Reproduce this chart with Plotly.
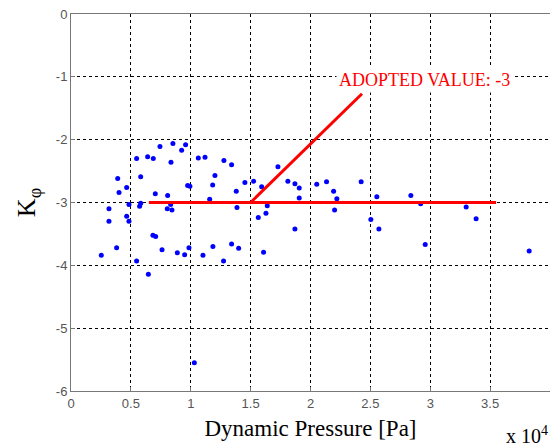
import plotly.graph_objects as go

# Dynamic pressure in units of 1e4 Pa, and K_phi
pressure = [0.743, 0.851, 0.957, 0.924, 1.063, 0.548, 0.640, 0.687, 0.835, 0.390,
            0.582, 0.465, 0.401, 0.974, 0.993, 0.704, 0.807, 0.484, 0.582, 0.573,
            0.832, 0.804, 0.843, 0.317, 0.317, 0.465, 0.484, 0.684, 0.707, 0.381,
            0.760, 0.888, 0.949, 0.985, 0.253, 0.548, 0.646, 1.030, 1.102, 1.185,
            1.158, 1.274, 1.341, 1.386, 1.400, 1.564, 1.608, 1.628, 1.639, 1.870,
            1.906, 1.119, 1.277, 1.341, 1.202, 1.183, 1.380, 1.452, 1.525, 1.592,
            1.728, 1.811, 1.870, 1.906, 2.052, 2.134, 2.193, 2.220, 2.201, 2.423,
            2.554, 2.504, 2.571, 2.838, 2.920, 2.958, 3.300, 3.383, 3.826]
k_phi = [-2.11, -2.06, -2.08, -2.17, -2.29, -2.30, -2.27, -2.30, -2.36, -2.62,
         -2.59, -2.76, -2.84, -2.73, -2.74, -2.86, -2.89, -3.03, -3.01, -3.06,
         -3.03, -3.10, -3.12, -3.10, -3.30, -3.22, -3.30, -3.52, -3.54, -3.72,
         -3.75, -3.80, -3.83, -3.72, -3.84, -3.93, -4.14, -5.55, -3.84, -3.70,
         -2.95, -3.93, -3.66, -3.08, -3.73, -3.24, -3.79, -3.17, -3.05, -3.42,
         -2.93, -2.28, -2.33, -2.40, -2.57, -2.72, -2.82, -2.68, -2.66, -2.75,
         -2.43, -2.66, -2.70, -2.77, -2.71, -2.67, -2.82, -2.94, -3.12, -2.67,
         -2.91, -3.27, -3.42, -2.89, -3.02, -3.67, -3.07, -3.26, -3.77]

adopted_x = [0.65, 3.55]
adopted_y = [-3, -3]
pointer_x = [1.50, 2.43]
pointer_y = [-3, -1.27]
adopted_label = "ADOPTED VALUE: -3"

x_ticks = [0, 0.5, 1, 1.5, 2, 2.5, 3, 3.5, 4]
y_ticks = [0, -1, -2, -3, -4, -5, -6]

fig = go.Figure()
fig.add_trace(go.Scatter(x=pressure, y=k_phi, mode="markers",
                         marker=dict(color="#0000ff", size=5, line=dict(width=0)),
                         showlegend=False))
fig.add_trace(go.Scatter(x=adopted_x, y=adopted_y, mode="lines",
                         line=dict(color="#ff0000", width=3), showlegend=False))
fig.add_trace(go.Scatter(x=pointer_x, y=pointer_y, mode="lines",
                         line=dict(color="#ff0000", width=3), showlegend=False))

fig.add_annotation(x=2.955, y=-1.05, xref="x", yref="y", text=adopted_label,
                   showarrow=False, bgcolor="white",
                   font=dict(family="Liberation Serif", size=18, color="#ff0000"),
                   borderpad=2)
fig.add_annotation(x=1.0, y=0, xref="paper", yref="paper", yshift=-30, xshift=0,
                   xanchor="right", yanchor="top", text="x 10<sup>4</sup>",
                   showarrow=False,
                   font=dict(family="Liberation Serif", size=20, color="black"))

axis_common = dict(showgrid=True, gridcolor="black", griddash="dot", gridwidth=1,
                   showline=True, linecolor="#777777", linewidth=1, mirror=True,
                   ticks="inside", ticklen=4, tickcolor="#777777", zeroline=False,
                   automargin=False,
                   tickfont=dict(family="Liberation Sans", size=13, color="#555555"))

fig.update_xaxes(range=[0, 4], tickvals=x_ticks,
                 ticktext=[("%g" % v) for v in x_ticks],
                 title=dict(text="Dynamic Pressure [Pa]", standoff=10,
                            font=dict(family="Liberation Serif", size=23, color="black")),
                 **axis_common)
fig.update_yaxes(range=[-6, 0], tickvals=y_ticks,
                 ticktext=[("%g" % v) for v in y_ticks],
                 title=dict(text="K<sub>φ</sub>", standoff=12,
                            font=dict(family="Liberation Serif", size=26, color="black")),
                 **axis_common)

fig.update_layout(width=550, height=448, margin=dict(l=71, r=0, t=14, b=57),
                  plot_bgcolor="white", paper_bgcolor="white")

fig.write_html("out.html", config={"displayModeBar": False},
               post_script="document.body.style.margin='0px';document.body.style.overflow='hidden';")
